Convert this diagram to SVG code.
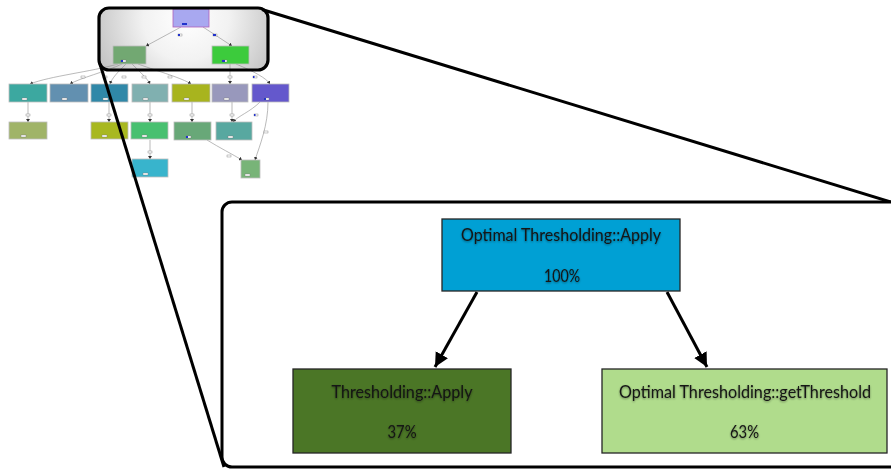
<svg xmlns="http://www.w3.org/2000/svg" width="891" height="469" viewBox="0 0 891 469">
  <defs>
    <radialGradient id="lensFill" gradientUnits="userSpaceOnUse" cx="186" cy="18" r="95">
      <stop offset="0" stop-color="#ffffff"/>
      <stop offset="0.45" stop-color="#f2f2f2"/>
      <stop offset="1" stop-color="#c4c4c4"/>
    </radialGradient>
    <marker id="tinyHead" markerWidth="4" markerHeight="4" refX="3" refY="2" orient="auto" markerUnits="userSpaceOnUse">
      <path d="M0,0 L3,2 L0,4 z" fill="#333"/>
    </marker>
    <marker id="bigHead" markerWidth="18" markerHeight="18" refX="14" refY="7" orient="auto" markerUnits="userSpaceOnUse">
      <path d="M0,0 L14,7 L0,14 z" fill="#000"/>
    </marker>
    <filter id="glow" x="-10%" y="-40%" width="120%" height="180%">
      <feGaussianBlur in="SourceAlpha" stdDeviation="1.1" result="b"/>
      <feOffset in="b" dy="0.6" result="o"/>
      <feComponentTransfer in="o" result="s">
        <feFuncA type="linear" slope="0.45"/>
      </feComponentTransfer>
      <feMerge>
        <feMergeNode in="s"/>
        <feMergeNode in="SourceGraphic"/>
      </feMerge>
    </filter>
  </defs>
  <style>
    .mini { stroke: #bdbdbd; stroke-width: 0.8; }
    .medge { fill: none; stroke: #8c8c8c; stroke-width: 0.6; marker-end: url(#tinyHead); }
    .bar { fill: #ffffff; stroke: #777; stroke-width: 0.4; }
    .barfill { fill: #2233cc; }
    .frame { fill: none; stroke: #000; stroke-width: 3.2; }
    .callout { stroke: #000; stroke-width: 3; fill: none; }
    .node { stroke: #262626; stroke-width: 1.3; }
    .big-edge { fill: none; stroke: #000; stroke-width: 3; marker-end: url(#bigHead); }
    .label { font-family: Lato, "Liberation Sans", sans-serif; font-size: 18px; fill: #141414; text-anchor: middle; filter: url(#glow); }
    .label.long { font-size: 17px; }
  </style>

  <rect width="891" height="469" fill="#ffffff"/>

  <!-- magnifier lens background -->
  <rect x="99" y="8" width="169" height="62" rx="10" fill="url(#lensFill)"/>

  <!-- overview call graph: connectors -->
  <g id="mini-edges">
    <path class="medge" d="M181,27 L146,46"/>
    <path class="medge" d="M203,27 L232,46"/>
    <path class="medge" d="M118,64 C90,72 50,76 30,84"/>
    <path class="medge" d="M122,64 C105,72 80,78 70,84"/>
    <path class="medge" d="M126,64 C118,72 112,78 110,84"/>
    <path class="medge" d="M132,64 C140,72 147,78 150,84"/>
    <path class="medge" d="M138,64 C160,72 182,78 191,84"/>
    <path class="medge" d="M230,64 L230,84"/>
    <path class="medge" d="M236,64 C255,72 266,78 270,84"/>
    <path class="medge" d="M28,102 L28,122"/>
    <path class="medge" d="M109,102 L109,122"/>
    <path class="medge" d="M150,102 L150,122"/>
    <path class="medge" d="M192,102 L192,122"/>
    <path class="medge" d="M232,102 L232,122"/>
    <path class="medge" d="M260,102 C250,112 238,116 233,122"/>
    <path class="medge" d="M268,102 C268,125 260,145 255,160"/>
    <path class="medge" d="M150,140 L150,159"/>
    <path class="medge" d="M207,140 C220,148 232,154 242,160"/>
    <!-- edge weight bars -->
    <rect class="bar" x="178" y="34" width="4" height="2"/><rect class="barfill" x="178" y="34" width="2" height="2"/>
    <rect class="bar" x="213" y="34" width="4" height="2"/><rect class="barfill" x="213" y="34" width="3" height="2"/>
    <rect class="bar" x="81" y="76" width="4" height="2"/>
    <rect class="bar" x="103" y="76" width="4" height="2"/>
    <rect class="bar" x="122" y="76" width="4" height="2"/>
    <rect class="bar" x="142" y="76" width="4" height="2"/>
    <rect class="bar" x="168" y="76" width="4" height="2"/>
    <rect class="bar" x="228" y="76" width="4" height="2"/>
    <rect class="bar" x="253" y="76" width="4" height="2"/><rect class="barfill" x="253" y="76" width="1.5" height="2"/>
    <rect class="bar" x="26" y="114" width="4" height="2"/>
    <rect class="bar" x="107" y="114" width="4" height="2"/>
    <rect class="bar" x="148" y="114" width="4" height="2"/>
    <rect class="bar" x="190" y="114" width="4" height="2"/>
    <rect class="bar" x="230" y="114" width="4" height="2"/>
    <rect class="bar" x="254" y="114" width="4" height="2"/><rect class="barfill" x="254" y="114" width="1.5" height="2"/>
    <rect class="bar" x="264" y="131" width="4" height="2"/>
    <rect class="bar" x="148" y="151" width="4" height="2"/>
    <rect class="bar" x="227" y="155" width="4" height="2"/>
  </g>

  <!-- overview call graph: nodes -->
  <g id="m-root"><rect x="173" y="9" width="36" height="18" fill="#a8a8f0" stroke="#b060b8" stroke-width="0.8"/><rect x="182" y="23" width="5" height="2" class="barfill"/></g>
  <g id="m-a"><rect class="mini" x="113" y="46" width="33" height="18" fill="#72a872"/><rect class="bar" x="121" y="60" width="5" height="2"/><rect class="barfill" x="121" y="60" width="2" height="2"/></g>
  <g id="m-b"><rect class="mini" x="212" y="46" width="37" height="18" fill="#3ccb3c"/><rect class="bar" x="222" y="60" width="5" height="2"/><rect class="barfill" x="222" y="60" width="3" height="2"/></g>
  <g id="m-n1"><rect class="mini" x="9" y="84" width="38" height="18" fill="#3ca8a0"/><rect class="bar" x="22" y="98" width="5" height="2"/></g>
  <g id="m-n2"><rect class="mini" x="50" y="84" width="38" height="18" fill="#6290b0"/><rect class="bar" x="62" y="98" width="5" height="2"/></g>
  <g id="m-n3"><rect class="mini" x="91" y="84" width="37" height="18" fill="#3088a8"/><rect class="bar" x="103" y="98" width="5" height="2"/></g>
  <g id="m-n4"><rect class="mini" x="132" y="84" width="36" height="18" fill="#80b0b0"/><rect class="bar" x="143" y="98" width="5" height="2"/></g>
  <g id="m-n5"><rect class="mini" x="172" y="84" width="38" height="18" fill="#a8b41e"/><rect class="bar" x="184" y="98" width="5" height="2"/></g>
  <g id="m-n6"><rect class="mini" x="212" y="84" width="36" height="18" fill="#9898bc"/><rect class="bar" x="224" y="98" width="5" height="2"/></g>
  <g id="m-n7"><rect class="mini" x="252" y="84" width="37" height="18" fill="#6458cc"/><rect class="bar" x="264" y="98" width="5" height="2"/><rect class="barfill" x="264" y="98" width="2" height="2"/></g>
  <g id="m-m1"><rect class="mini" x="9" y="122" width="38" height="17" fill="#a0b468"/><rect class="bar" x="21" y="135" width="5" height="2"/></g>
  <g id="m-m2"><rect class="mini" x="91" y="122" width="37" height="17" fill="#a8b820"/><rect class="bar" x="102" y="135" width="5" height="2"/></g>
  <g id="m-m3"><rect class="mini" x="131" y="122" width="37" height="17" fill="#48c070"/><rect class="bar" x="142" y="135" width="5" height="2"/></g>
  <g id="m-m4"><rect class="mini" x="174" y="122" width="37" height="18" fill="#68a878"/><rect class="bar" x="186" y="136" width="5" height="2"/><rect class="barfill" x="186" y="136" width="2" height="2"/></g>
  <g id="m-m5"><rect class="mini" x="216" y="122" width="36" height="18" fill="#58a8a0"/><rect class="bar" x="228" y="136" width="5" height="2"/></g>
  <g id="m-p1"><rect class="mini" x="132" y="159" width="36" height="18" fill="#38b4cc"/><rect class="bar" x="143" y="173" width="5" height="2"/></g>
  <g id="m-p2"><rect class="mini" x="241" y="160" width="19" height="18" fill="#78b478"/><rect class="bar" x="245" y="174" width="5" height="2"/></g>

  <!-- magnifier lens outline and callout lines -->
  <rect class="frame" x="99" y="8" width="169" height="62" rx="10"/>
  <g id="callout-lines">
    <line class="callout" x1="262" y1="9.5" x2="891" y2="202"/>
    <line class="callout" x1="100" y1="64" x2="224" y2="467"/>
  </g>

  <!-- enlarged detail panel -->
  <rect x="222" y="202" width="700" height="265" rx="10" fill="#ffffff" stroke="#000" stroke-width="3"/>

  <g id="edges">
    <path class="big-edge" d="M477,292 L435,367"/>
    <path class="big-edge" d="M667,292 L707,367"/>
  </g>

  <g id="apply">
    <rect class="node" x="442" y="219" width="238" height="72" fill="#00a0d4"/>
    <text class="label" x="561" y="241" textLength="200" lengthAdjust="spacingAndGlyphs">Optimal Thresholding::Apply</text>
    <text class="label" x="562" y="282" textLength="36" lengthAdjust="spacingAndGlyphs">100%</text>
  </g>
  <g id="thresholding-apply">
    <rect class="node" x="293" y="369" width="218" height="84" fill="#4b7626"/>
    <text class="label" x="402" y="398" textLength="141" lengthAdjust="spacingAndGlyphs">Thresholding::Apply</text>
    <text class="label" x="402" y="438" textLength="29" lengthAdjust="spacingAndGlyphs">37%</text>
  </g>
  <g id="get-threshold">
    <rect class="node" x="602" y="369" width="285" height="84" fill="#b0dc8c"/>
    <text class="label long" x="745" y="398" textLength="252" lengthAdjust="spacingAndGlyphs">Optimal Thresholding::getThreshold</text>
    <text class="label" x="744.5" y="438" textLength="29" lengthAdjust="spacingAndGlyphs">63%</text>
  </g>
</svg>
